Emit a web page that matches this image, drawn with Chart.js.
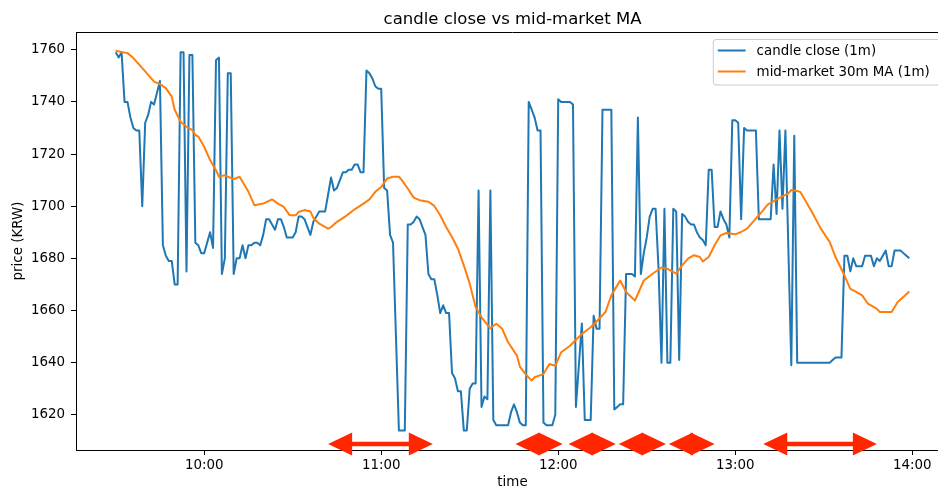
<!DOCTYPE html>
<html><head><meta charset="utf-8">
<script src="https://cdn.jsdelivr.net/npm/chart.js@4.4.1/dist/chart.umd.min.js"></script>
<style>
html,body{margin:0;padding:0;background:#fff;overflow:hidden;width:938px;height:489px}
canvas{display:block}
</style></head><body>
<canvas id="c" width="960" height="491"></canvas>
<script>
// minutes since midnight
const candleTimes = [570,571,572,573,574,575,576,577,578,579,580,581,582,583,585,586,587,588,589,590,591,592,593,594,595,596,597,598,599,600,602,603,604,605,606,607,608,609,610,611,612,613,614,615,616,617,618,619,620,621,622,624,625,626,627,628,629,630,631,632,633,634,635,636,637,638,639,640,641,643,644,645,646,647,648,649,650,651,652,653,654,655,656,657,658,659,660,661,662,663,664,666,667,668,669,670,671,672,673,674,675,676,677,678,679,680,681,682,683,684,685,686,687,688,689,690,691,692,693,694,695,696,697,698,699,700,701,702,703,704,705,706,707,708,709,710,711,712,713,714,715,716,717,718,719,720,721,722,723,724,725,726,728,729,730,731,732,733,734,735,736,737,738,739,740,741,742,743,744,745,746,747,748,749,750,751,752,753,754,755,756,757,758,759,760,761,762,763,764,765,766,767,768,769,770,771,772,773,774,775,776,777,778,779,780,781,782,783,784,785,786,787,788,789,790,791,792,793,794,795,796,797,799,800,801,812,813,814,816,817,818,819,820,821,822,823,824,825,826,827,828,829,830,831,832,833,834,835,836,837,838,839];
const candleClose = [1759,1757,1759,1740,1740,1734,1730,1729,1729,1700,1732,1735,1740,1739,1748,1685,1681,1679,1679,1670,1670,1759,1759,1675,1758,1758,1686,1685,1682,1682,1690,1684,1756,1757,1674,1680,1751,1751,1674,1680,1680,1685,1680,1685,1685,1686,1686,1685,1689,1695,1695,1691,1695,1695,1692,1688,1688,1688,1690,1696,1696,1695,1692,1689,1694,1696,1698,1698,1698,1711,1706,1707,1710,1713,1713,1714,1714,1716,1716,1713,1713,1752,1751,1749,1746,1745,1745,1707,1706,1689,1686,1614,1614,1614,1693,1693,1694,1696,1695,1692,1689,1674,1672,1672,1666,1659,1662,1659,1659,1636,1634,1629,1629,1614,1614,1630,1632,1632,1706,1623,1627,1626,1706,1618,1616,1616,1616,1616,1616,1621,1624,1621,1617,1616,1616,1740,1737,1734,1729,1729,1617,1616,1616,1616,1620,1741,1740,1740,1740,1740,1739,1623,1655,1618,1618,1618,1658,1653,1653,1737,1737,1737,1737,1622,1623,1624,1624,1674,1674,1674,1673,1734,1674,1682,1688,1696,1699,1699,1676,1640,1699,1640,1640,1699,1698,1641,1697,1696,1694,1693,1693,1690,1688,1687,1685,1714,1714,1692,1692,1698,1695,1693,1688,1733,1733,1732,1695,1730,1729,1729,1729,1729,1695,1695,1695,1695,1695,1716,1697,1729,1699,1729,1639,1727,1640,1640,1641,1642,1642,1681,1681,1675,1680,1677,1677,1677,1681,1681,1681,1677,1680,1679,1681,1683,1677,1677,1683,1683,1683,1682,1681,1680];
const maTimes = [570,574,576,580,583,585,587,589,590,592,594,596,597,598,600,602,604,605,607,608,610,612,615,617,620,623,625,627,629,631,632,634,636,637,639,642,643,645,648,651,654,656,658,660,662,664,666,667,669,671,673,676,678,680,682,684,686,688,690,692,694,696,697,699,701,703,706,707,709,711,712,715,717,719,721,724,725,728,731,733,736,738,741,743,746,749,752,755,757,760,762,764,766,768,769,771,773,775,777,780,782,784,786,789,791,793,795,798,799,801,802,804,806,809,812,814,817,819,821,823,825,828,829,833,835,839];
const maValues = [1759.6,1758.7,1756.8,1751.7,1747.8,1746.8,1745.3,1742.0,1737.0,1732.4,1730.5,1729.2,1727.3,1726.7,1722.8,1717.7,1713.8,1711.3,1711.9,1711.3,1710.4,1711.3,1705.5,1700.4,1701.0,1702.6,1701.0,1699.7,1696.5,1696.5,1697.8,1698.5,1698.0,1695.5,1693.3,1691.4,1692.0,1694.0,1696.2,1698.8,1701.0,1702.6,1705.5,1707.4,1710.6,1711.3,1711.3,1710.0,1706.8,1703.3,1702.3,1701.7,1700.1,1696.5,1692.0,1688.2,1683.7,1677.3,1670.3,1661.3,1657.4,1654.5,1653.2,1654.9,1653.0,1647.8,1642.7,1638.5,1635.5,1633.1,1634.4,1635.6,1639.5,1638.8,1644.0,1646.5,1647.6,1651.0,1653.6,1655.8,1659.4,1665.8,1671.5,1667.1,1663.8,1671.5,1674.1,1676.5,1676.0,1674.1,1677.3,1679.9,1681.2,1680.5,1678.8,1680.5,1685.0,1688.8,1689.7,1689.2,1690.1,1691.4,1694.0,1697.8,1700.6,1701.9,1703.2,1704.9,1706.2,1705.8,1705.5,1701.7,1697.8,1691.4,1686.3,1680.5,1673.5,1668.3,1667.1,1665.8,1662.6,1660.6,1659.4,1659.4,1663.2,1667.3];
const seriesLabels = ['candle close (1m)', 'mid-market 30m MA (1m)'];
const chartTitle = 'candle close vs mid-market MA';
const xTickValues = [600, 660, 720, 780, 840];
const xTickLabels = ['10:00', '11:00', '12:00', '13:00', '14:00'];
const yTickValues = [1620, 1640, 1660, 1680, 1700, 1720, 1740, 1760];
// double-headed arrow annotations (start / end minute)
const arrowStart = [642, 705.5, 723.5, 740.5, 757.5, 789.5];
const arrowEnd = [677.5, 721.5, 739.5, 756.5, 773, 828];
const arrowLevel = 1608.8;

const FONT = '"DejaVu Sans", "Liberation Sans", sans-serif';
const BLUE = '#1f77b4', ORANGE = '#ff7f0e', ARROW = '#ff2600';

const extras = {
  id: 'extras',
  afterDraw(chart) {
    const {ctx, chartArea: a, scales: {x, y}} = chart;
    ctx.save();
    // top & right spines
    ctx.strokeStyle = '#000'; ctx.lineWidth = 1;
    ctx.beginPath();
    ctx.moveTo(a.left, a.top + 0.5); ctx.lineTo(a.right, a.top + 0.5);
    ctx.moveTo(a.right - 0.5, a.top); ctx.lineTo(a.right - 0.5, a.bottom);
    ctx.stroke();
    // title
    ctx.fillStyle = '#000';
    ctx.font = '16.5px ' + FONT;
    ctx.textAlign = 'center'; ctx.textBaseline = 'alphabetic';
    ctx.fillText(chartTitle, (a.left + a.right) / 2, a.top - 8);
    // arrows
    ctx.fillStyle = ARROW;
    const hl = 24, hw = 11.5, sw = 4.5;
    const yy = y.getPixelForValue(arrowLevel);
    for (let i = 0; i < arrowStart.length; i++) {
      const x1 = x.getPixelForValue(arrowStart[i]);
      const x2 = x.getPixelForValue(arrowEnd[i]);
      const s1 = x1 + hl * 0.6, s2 = x2 - hl * 0.6;
      if (s2 > s1) ctx.fillRect(s1, yy - sw / 2, s2 - s1, sw);
      ctx.beginPath(); ctx.moveTo(x1, yy); ctx.lineTo(x1 + hl, yy - hw); ctx.lineTo(x1 + hl, yy + hw); ctx.closePath(); ctx.fill();
      ctx.beginPath(); ctx.moveTo(x2, yy); ctx.lineTo(x2 - hl, yy - hw); ctx.lineTo(x2 - hl, yy + hw); ctx.closePath(); ctx.fill();
    }
    // legend
    const fs = 13.4;
    ctx.font = fs + 'px ' + FONT;
    const tw = Math.max(...seriesLabels.map(s => ctx.measureText(s).width));
    const bp = 5.6, hLen = 27.8, htp = 11;
    const right = a.right - 7, top = a.top + 7, h = 46;
    const left = right - (bp + hLen + htp + tw + bp + 6);
    const r = 3;
    ctx.beginPath();
    ctx.moveTo(left + r, top + 0.5);
    ctx.lineTo(right - r, top + 0.5);
    ctx.arcTo(right, top + 0.5, right, top + r, r);
    ctx.lineTo(right, top + h - r);
    ctx.arcTo(right, top + h, right - r, top + h, r);
    ctx.lineTo(left + r, top + h);
    ctx.arcTo(left + 0.5, top + h, left + 0.5, top + h - r, r);
    ctx.lineTo(left + 0.5, top + r);
    ctx.arcTo(left + 0.5, top + 0.5, left + r, top + 0.5, r);
    ctx.closePath();
    ctx.fillStyle = 'rgba(255,255,255,0.8)'; ctx.fill();
    ctx.strokeStyle = '#cccccc'; ctx.lineWidth = 1; ctx.stroke();
    const cols = [BLUE, ORANGE];
    ctx.textAlign = 'left'; ctx.textBaseline = 'middle';
    for (let i = 0; i < 2; i++) {
      const cy = top + 11.5 + i * 21;
      ctx.strokeStyle = cols[i]; ctx.lineWidth = 2;
      ctx.beginPath(); ctx.moveTo(left + 5, cy); ctx.lineTo(left + 5 + hLen, cy); ctx.stroke();
      ctx.fillStyle = '#000';
      ctx.fillText(seriesLabels[i], left + 5 + hLen + htp, cy + 1);
    }
    ctx.restore();
  }
};

new Chart(document.getElementById('c'), {
  type: 'line',
  data: {
    datasets: [
      { label: seriesLabels[0], data: candleTimes.map((t, i) => ({x: t, y: candleClose[i]})),
        borderColor: BLUE, backgroundColor: BLUE, borderWidth: 2, pointRadius: 0, tension: 0,
        borderJoinStyle: 'round', order: 1 },
      { label: seriesLabels[1], data: maTimes.map((t, i) => ({x: t, y: maValues[i]})),
        borderColor: ORANGE, backgroundColor: ORANGE, borderWidth: 2, pointRadius: 0, tension: 0,
        borderJoinStyle: 'round', order: 0 }
    ]
  },
  options: {
    responsive: false, animation: false, devicePixelRatio: 1, parsing: false, normalized: true,
    layout: { padding: { top: 32, left: 0, right: 11, bottom: 0 } },
    plugins: { legend: { display: false }, title: { display: false }, tooltip: { enabled: false } },
    scales: {
      x: {
        type: 'linear', min: 556.55, max: 852.45,
        afterBuildTicks: s => { s.ticks = xTickValues.map(v => ({value: v})); },
        afterFit: s => { s.height = 41; },
        grid: { drawOnChartArea: false, drawTicks: true, tickLength: 5, color: '#000', lineWidth: 1 },
        border: { display: true, color: '#000', width: 1 },
        ticks: { autoSkip: false, maxRotation: 0, padding: 2, color: '#000', font: { family: FONT, size: 13.4 },
          callback: v => { const i = xTickValues.indexOf(v); return i >= 0 ? xTickLabels[i] : ''; } },
        title: { display: true, text: 'time', color: '#000', font: { family: FONT, size: 13.4 }, padding: { top: 0, bottom: 0 } }
      },
      y: {
        type: 'linear', min: 1606.5, max: 1766.8,
        afterBuildTicks: s => { s.ticks = yTickValues.map(v => ({value: v})); },
        afterFit: s => { s.width = 76; },
        grid: { drawOnChartArea: false, drawTicks: true, tickLength: 5, color: '#000', lineWidth: 1 },
        border: { display: true, color: '#000', width: 1 },
        ticks: { padding: 6, color: '#000', font: { family: FONT, size: 13.4 }, callback: v => String(v) },
        title: { display: true, text: 'price (KRW)', color: '#000', font: { family: FONT, size: 13.4 }, padding: { top: 10, bottom: 0 } }
      }
    }
  },
  plugins: [extras]
});
</script>
</body></html>
